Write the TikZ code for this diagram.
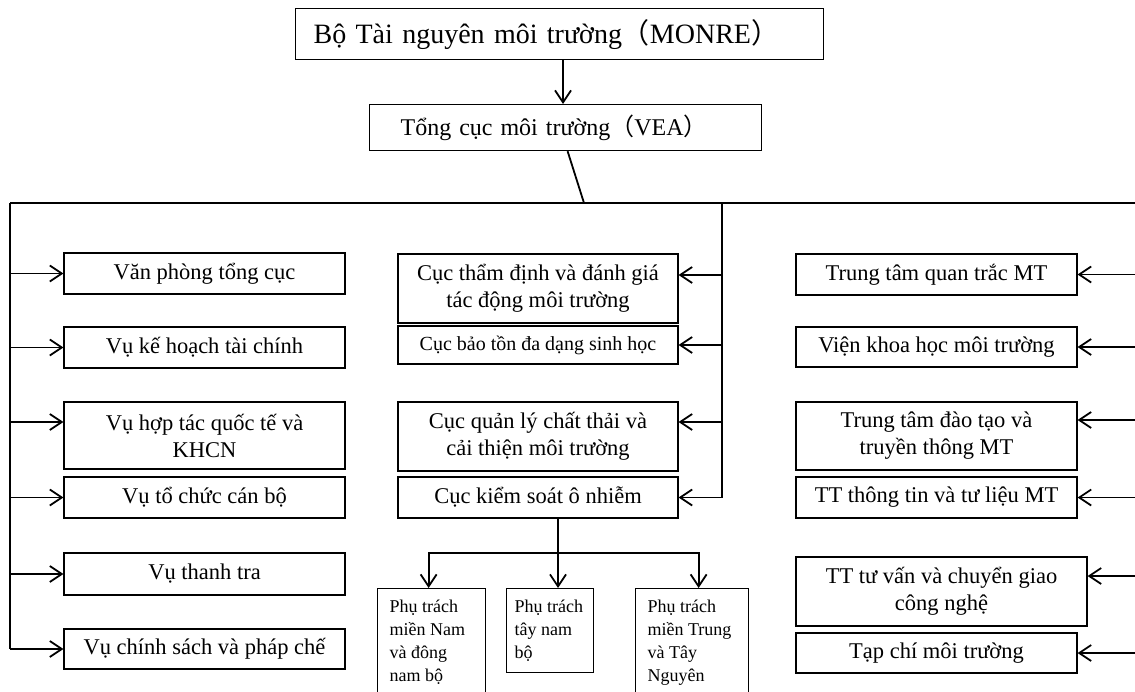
\documentclass[tikz,border=0pt]{standalone}
\usepackage{fontspec}
\setmainfont{Liberation Serif}
\newfontfamily\cjk{Noto Sans CJK SC}
\usetikzlibrary{arrows.meta}
\tikzset{unit style/.style={
		draw=black,
		line width=1.2pt,
		fill=white,
		text=black,
		rectangle,
		align=center,
		inner sep=0pt,
		minimum width=280,
		font=\fontsize{22.5}{27}\selectfont,
	},
	sub style/.style={
		unit style,
		font=\fontsize{20}{24}\selectfont,
	},
	head style/.style={
		unit style,
		align=left,
		anchor=north west,
	},
	region style/.style={
		draw=black,
		line width=1.2pt,
		rectangle,
		anchor=north west,
		inner xsep=12pt,
		inner ysep=11pt,
		font=\fontsize{18}{23}\selectfont,
	},
	link style/.style={
		line width=1.8pt,
	}
}

\begin{document}
\begin{tikzpicture}[x=1pt,y=-1pt,>={Straight Barb[length=12pt,width=16pt]}]
	\useasboundingbox (0,0) rectangle (1135,691);
	% top of the tree
	\node[head style, inner xsep=18pt, text width=492, minimum height=51, font=\fontsize{28}{32}\selectfont] (Monre) at (295,8) {Bộ Tài nguyên môi trường{\cjk （}MONRE{\cjk ）}};
	\node[head style, inner xsep=31pt, text width=330, minimum height=46, font=\fontsize{24}{29}\selectfont] (Vea) at (369,104) {Tổng cục môi trường{\cjk （}VEA{\cjk ）}};
	\coordinate (Drop) at (563,0);
	\draw[link style,->] (Drop |- Monre.south) -- (Drop |- Vea.north);
	
	\coordinate (Hub) at (584,203);
	\coordinate (LeftTop) at (10,203);
	\coordinate (MidTop) at (722,203);
	\coordinate (RightTop) at (1135,203);
	\draw[link style] ([xshift=2pt]Vea.south) -- (Hub);
	\draw[link style] (LeftTop) -- (RightTop);
	
	% left column
	\node[unit style, minimum width=281, minimum height=41] (Office) at (204.5,273.5) {Văn phòng tổng cục};
	\node[unit style, minimum width=281, minimum height=41] (Finance) at (204.5,347.5) {Vụ kế hoạch tài chính};
	\node[unit style, minimum width=281, minimum height=67] (Coop) at (204.5,435.5) {Vụ hợp tác quốc tế và\\KHCN};
	\node[unit style, minimum width=281, minimum height=41] (Staff) at (204.5,497.5) {Vụ tổ chức cán bộ};
	\node[unit style, minimum width=281, minimum height=42] (Inspect) at (204.5,574) {Vụ thanh tra};
	\node[unit style, minimum width=281, minimum height=40] (Legal) at (204.5,649) {Vụ chính sách và pháp chế};
	
	\coordinate (CoopIn) at ([yshift=13.5pt]Coop.west);
	\draw[link style] (LeftTop) -- (LeftTop |- Legal.west);
	\draw[link style,->] (LeftTop |- Office.west) -- (Office.west);
	\draw[link style,->] (LeftTop |- Finance.west) -- (Finance.west);
	\draw[link style,->] (LeftTop |- CoopIn) -- (CoopIn);
	\draw[link style,->] (LeftTop |- Staff.west) -- (Staff.west);
	\draw[link style,->] (LeftTop |- Inspect.west) -- (Inspect.west);
	\draw[link style,->] (LeftTop |- Legal.west) -- (Legal.west);
	
	% middle column
	\node[unit style, minimum height=69] (Assess) at (538,288.5) {Cục thẩm định và đánh giá\\tác động môi trường};
	\node[sub style, minimum height=38] (Biodiv) at (538,345) {Cục bảo tồn đa dạng sinh học};
	\node[unit style, minimum height=69] (Waste) at (538,436.5) {Cục quản lý chất thải và\\cải thiện môi trường};
	\node[unit style, minimum height=41] (Pollution) at (538,497.5) {Cục kiểm soát ô nhiễm};
	
	\coordinate (AssessIn) at ([yshift=13.5pt]Assess.east);
	\coordinate (WasteIn) at ([yshift=14.5pt]Waste.east);
	\draw[link style,->] (MidTop) |- (Pollution.east);
	\draw[link style,->] (MidTop |- AssessIn) -- (AssessIn);
	\draw[link style,->] (MidTop |- Biodiv.east) -- (Biodiv.east);
	\draw[link style,->] (MidTop |- WasteIn) -- (WasteIn);
	
	% regional offices, the outer two run past the bottom edge
	\node[region style] (South) at (377,588) {\parbox[t][100pt][t]{84pt}{\raggedright Phụ trách\\miền Nam\\và đông\\nam bộ}};
	\node[region style, inner xsep=8pt] (Southwest) at (506,588) {\parbox[t]{71pt}{\raggedright Phụ trách\\tây nam\\bộ}};
	\node[region style] (Central) at (635,588) {\parbox[t][100pt][t]{89pt}{\raggedright Phụ trách\\miền Trung\\và Tây\\Nguyên}};
	
	\coordinate (Split) at (558,553);
	\draw[link style] (Split |- Pollution.south) -- (Split);
	\draw[link style,->] (Split) -| ([xshift=-3pt]South.north);
	\draw[link style,->] (Split) -- (Split |- Southwest.north);
	\draw[link style,->] (Split) -| ([xshift=6.5pt]Central.north);
	
	% right column
	\node[unit style, minimum width=281, minimum height=41] (Monitor) at (936.5,274.5) {Trung tâm quan trắc MT};
	\node[unit style, minimum width=281, minimum height=40] (Institute) at (936.5,347) {Viện khoa học môi trường};
	\node[unit style, minimum width=281, minimum height=68] (Training) at (936.5,436) {Trung tâm đào tạo và\\truyền thông MT};
	\node[unit style, minimum width=281, minimum height=41] (Archive) at (936.5,497.5) {TT thông tin và tư liệu MT};
	\node[unit style, minimum width=291, minimum height=69] (Consult) at (941.5,591.5) {TT tư vấn và chuyển giao\\công nghệ};
	\node[unit style, minimum width=281, minimum height=40] (Journal) at (936.5,653) {Tạp chí môi trường};
	
	\coordinate (TrainingIn) at ([yshift=16pt]Training.east);
	\coordinate (ConsultIn) at ([yshift=15.5pt]Consult.east);
	\draw[link style,->] (RightTop |- Monitor.east) -- (Monitor.east);
	\draw[link style,->] (RightTop |- Institute.east) -- (Institute.east);
	\draw[link style,->] (RightTop |- TrainingIn) -- (TrainingIn);
	\draw[link style,->] (RightTop |- Archive.east) -- (Archive.east);
	\draw[link style,->] (RightTop |- ConsultIn) -- (ConsultIn);
	\draw[link style,->] (RightTop |- Journal.east) -- (Journal.east);
\end{tikzpicture}
\end{document}
